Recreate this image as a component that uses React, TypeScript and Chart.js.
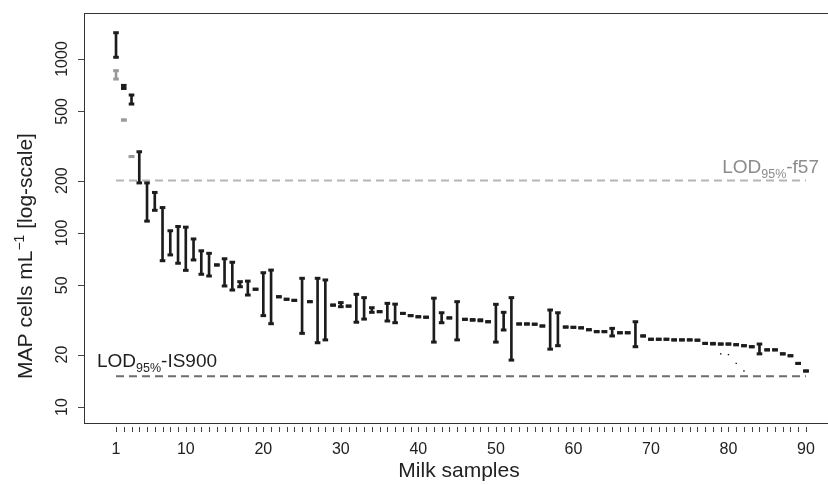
import React, { useEffect, useRef } from "react";
import { Chart, registerables } from "chart.js";
Chart.register(...registerables);

// ---- data ----
const samples = Array.from({ length: 90 }, (_, i) => i + 1);

const is900Hi = [
  1416, 705, 621, 293, 194, 171, 140, 103, 109, 108,
  92.4, 79, 76.4, 65.5, 71.1, 67.9, 52.5, 52.9, 47.5, 59.1,
  61.2, 43, 41.6, 41, 54.9, 40.3, 54.9, 53.7, 38.5, 39.8,
  38, 44.4, 42.5, 37.2, 35.3, 39.4, 39, 34.5, 33.5, 33,
  32.8, 42.2, 34.8, 32.5, 40.3, 31.9, 31.8, 31.7, 30.9, 38.9,
  35, 42.5, 30, 30, 29.9, 29.2, 36.1, 34.8, 28.8, 28.7,
  28.5, 27.8, 27.1, 27.1, 28.3, 26.7, 26.7, 30.9, 25.6, 24.5,
  24.5, 24.5, 24.3, 24.3, 24.3, 24.2, 23.2, 23.2, 23.0, 23.0,
  22.8, 22.5, 22.2, 23.0, 21.3, 21.3, 20.2, 19.7, 17.8, 16.1,
];
const is900Lo = [
  1023, 677, 551, 194, 117, 135, 69.3, 74.8, 67, 61,
  70, 57.9, 56.6, 65.5, 49.6, 47, 49.1, 44, 47.5, 33.5,
  30.1, 43, 41.6, 41, 26.5, 40.3, 23.4, 24.3, 38.5, 37.7,
  38, 30.7, 32, 35, 35.3, 31.2, 30.5, 34.5, 33.5, 33,
  32.8, 23.6, 30.5, 32.5, 24.3, 31.9, 31.5, 31.3, 30.9, 23.6,
  27.7, 18.6, 30, 30, 29.9, 29.2, 21.5, 22.5, 28.8, 28.7,
  28.5, 27.8, 27.1, 27.1, 25.6, 26.7, 26.7, 22.2, 25.6, 24.5,
  24.5, 24.5, 24.3, 24.3, 24.3, 24.2, 23.2, 23.0, 23.0, 23.0,
  22.8, 22.5, 22.2, 20.2, 21.3, 21.3, 20.2, 19.7, 17.8, 16.1,
];

const f57Samples = [1, 2, 3];
const f57Hi = [857, 446, 275];
const f57Lo = [767, 446, 275];

const dotSamples = [79, 80, 81, 82];
const dotValues = [20.2, 20.0, 17.8, 16.1];

const lodF57 = 200;
const lodIS900 = 15;

const xTickLabels = [1, 10, 20, 30, 40, 50, 60, 70, 80, 90];
const yTickValues = [10, 20, 50, 100, 200, 500, 1000];

const xTitle = "Milk samples";
const yTitleParts = ["MAP cells mL", "\u22121", " [log-scale]"];

// ---- style ----
const BLACK = "#1c1c1c";
const GRAY = "#9a9a9a";
const FONT = "'Liberation Sans', Arial, Helvetica, sans-serif";

const axesPlugin = {
  id: "rAxes",
  afterDraw(chart: any) {
    const ctx = chart.ctx as CanvasRenderingContext2D;
    const xs = chart.scales.x;
    const ys = chart.scales.y;
    const a = chart.chartArea;
    ctx.save();
    // box
    ctx.strokeStyle = "#333";
    ctx.lineWidth = 1;
    ctx.strokeRect(a.left + 0.5, a.top + 0.5, a.right - a.left + 10, a.bottom - a.top);

    // x ticks
    ctx.strokeStyle = "#444";
    ctx.beginPath();
    for (const s of samples) {
      const px = Math.round(xs.getPixelForValue(s)) + 0.5;
      ctx.moveTo(px, a.bottom + 4);
      ctx.lineTo(px, a.bottom + 9);
    }
    ctx.stroke();
    ctx.fillStyle = "#222";
    ctx.font = `16px ${FONT}`;
    ctx.textAlign = "center";
    ctx.textBaseline = "alphabetic";
    for (const t of xTickLabels) {
      ctx.fillText(String(t), xs.getPixelForValue(t), 454);
    }
    ctx.font = `21px ${FONT}`;
    ctx.fillText(xTitle, 459, 477);

    // y ticks
    ctx.beginPath();
    for (const v of yTickValues) {
      const py = Math.round(ys.getPixelForValue(v)) + 0.5;
      ctx.moveTo(a.left - 6, py);
      ctx.lineTo(a.left, py);
    }
    ctx.stroke();
    ctx.font = `16px ${FONT}`;
    for (const v of yTickValues) {
      const py = ys.getPixelForValue(v);
      ctx.save();
      ctx.translate(67, py);
      ctx.rotate(-Math.PI / 2);
      ctx.textAlign = "center";
      ctx.fillText(String(v), 0, 0);
      ctx.restore();
    }

    // y title with superscript
    const big = `21px ${FONT}`;
    const small = `14px ${FONT}`;
    ctx.font = big;
    const w0 = ctx.measureText(yTitleParts[0]).width;
    const w2 = ctx.measureText(yTitleParts[2]).width;
    ctx.font = small;
    const w1 = ctx.measureText(yTitleParts[1]).width;
    const total = w0 + w1 + w2;
    ctx.save();
    ctx.translate(32, 256);
    ctx.rotate(-Math.PI / 2);
    ctx.textAlign = "left";
    let cx = -total / 2;
    ctx.font = big;
    ctx.fillText(yTitleParts[0], cx, 0);
    cx += w0;
    ctx.font = small;
    ctx.fillText(yTitleParts[1], cx, -8);
    cx += w1;
    ctx.font = big;
    ctx.fillText(yTitleParts[2], cx, 0);
    ctx.restore();

    // LOD labels
    const drawLod = (suffix: string, x: number, y: number, color: string, alignRight: boolean) => {
      const m = `19px ${FONT}`;
      const sb = `12.5px ${FONT}`;
      ctx.font = m;
      const wa = ctx.measureText("LOD").width;
      const wc = ctx.measureText(suffix).width;
      ctx.font = sb;
      const wb = ctx.measureText("95%").width;
      let sx = alignRight ? x - (wa + wb + wc) : x;
      ctx.fillStyle = color;
      ctx.textAlign = "left";
      ctx.font = m;
      ctx.fillText("LOD", sx, y);
      sx += wa;
      ctx.font = sb;
      ctx.fillText("95%", sx, y + 5);
      sx += wb;
      ctx.font = m;
      ctx.fillText(suffix, sx, y);
    };
    drawLod("-f57", 819, 173, "#8c8c8c", true);
    drawLod("-IS900", 97, 367, "#1e1e1e", false);
    ctx.restore();
  },
};

export default function App() {
  const ref = useRef<HTMLCanvasElement>(null);
  useEffect(() => {
    document.body.style.margin = "0";
    const canvas = ref.current!;
    const capCommon = {
      type: "scatter" as const,
      pointStyle: "line" as const,
      pointRadius: 2.8,
      pointHoverRadius: 2.8,
      borderWidth: 3,
    };
    const chart = new Chart(canvas, {
      type: "bar",
      data: {
        datasets: [
          {
            ...capCommon,
            label: "IS900 upper",
            data: samples.map((x, i) => ({ x, y: is900Hi[i] })),
            borderColor: BLACK,
            backgroundColor: BLACK,
            order: 1,
          } as any,
          {
            ...capCommon,
            label: "IS900 lower",
            data: samples.map((x, i) => ({ x, y: is900Lo[i] })),
            borderColor: BLACK,
            backgroundColor: BLACK,
            order: 1,
          } as any,
          {
            ...capCommon,
            label: "f57 upper",
            data: f57Samples.map((x, i) => ({ x, y: f57Hi[i] })),
            borderColor: GRAY,
            backgroundColor: GRAY,
            order: 1,
          } as any,
          {
            ...capCommon,
            label: "f57 lower",
            data: f57Samples.map((x, i) => ({ x, y: f57Lo[i] })),
            borderColor: GRAY,
            backgroundColor: GRAY,
            order: 1,
          } as any,
          {
            type: "scatter",
            label: "single",
            data: dotSamples.map((x, i) => ({ x, y: dotValues[i] })),
            pointStyle: "rect",
            pointRadius: 1,
            borderWidth: 0,
            backgroundColor: BLACK,
            order: 1,
          } as any,
          {
            type: "bar",
            label: "IS900 range",
            data: samples.map((x, i) => ({ x, y: [is900Lo[i], is900Hi[i]] })),
            backgroundColor: BLACK,
            barThickness: 2,
            grouped: false,
            order: 3,
          } as any,
          {
            type: "bar",
            label: "f57 range",
            data: f57Samples.map((x, i) => ({ x, y: [f57Lo[i], f57Hi[i]] })),
            backgroundColor: GRAY,
            barThickness: 2,
            grouped: false,
            order: 3,
          } as any,
          {
            type: "line",
            label: "LOD f57",
            data: [
              { x: samples[0], y: lodF57 },
              { x: samples[samples.length - 1], y: lodF57 },
            ],
            borderColor: "#b5b5b5",
            borderWidth: 2,
            borderDash: [8, 5],
            pointRadius: 0,
            order: 5,
          } as any,
          {
            type: "line",
            label: "LOD IS900",
            data: [
              { x: samples[0], y: lodIS900 },
              { x: samples[samples.length - 1], y: lodIS900 },
            ],
            borderColor: "#6e6e6e",
            borderWidth: 2,
            borderDash: [8, 5],
            pointRadius: 0,
            order: 5,
          } as any,
        ],
      },
      options: {
        animation: false,
        responsive: false,
        devicePixelRatio: 1,
        events: [],
        layout: { autoPadding: false, padding: { left: 84, top: 13, right: 0, bottom: 62 } },
        plugins: { legend: { display: false }, tooltip: { enabled: false } },
        scales: {
          x: { type: "linear", display: false, min: -3.13, max: 92.84, offset: false },
          y: { type: "logarithmic", display: false, min: 8.09, max: 1838 },
        },
      },
      plugins: [axesPlugin],
    });
    return () => chart.destroy();
  }, []);
  return (
    <div style={{ width: 828, height: 485, background: "#fff" }}>
      <canvas ref={ref} width={828} height={485} style={{ display: "block", width: 828, height: 485 }} />
    </div>
  );
}
